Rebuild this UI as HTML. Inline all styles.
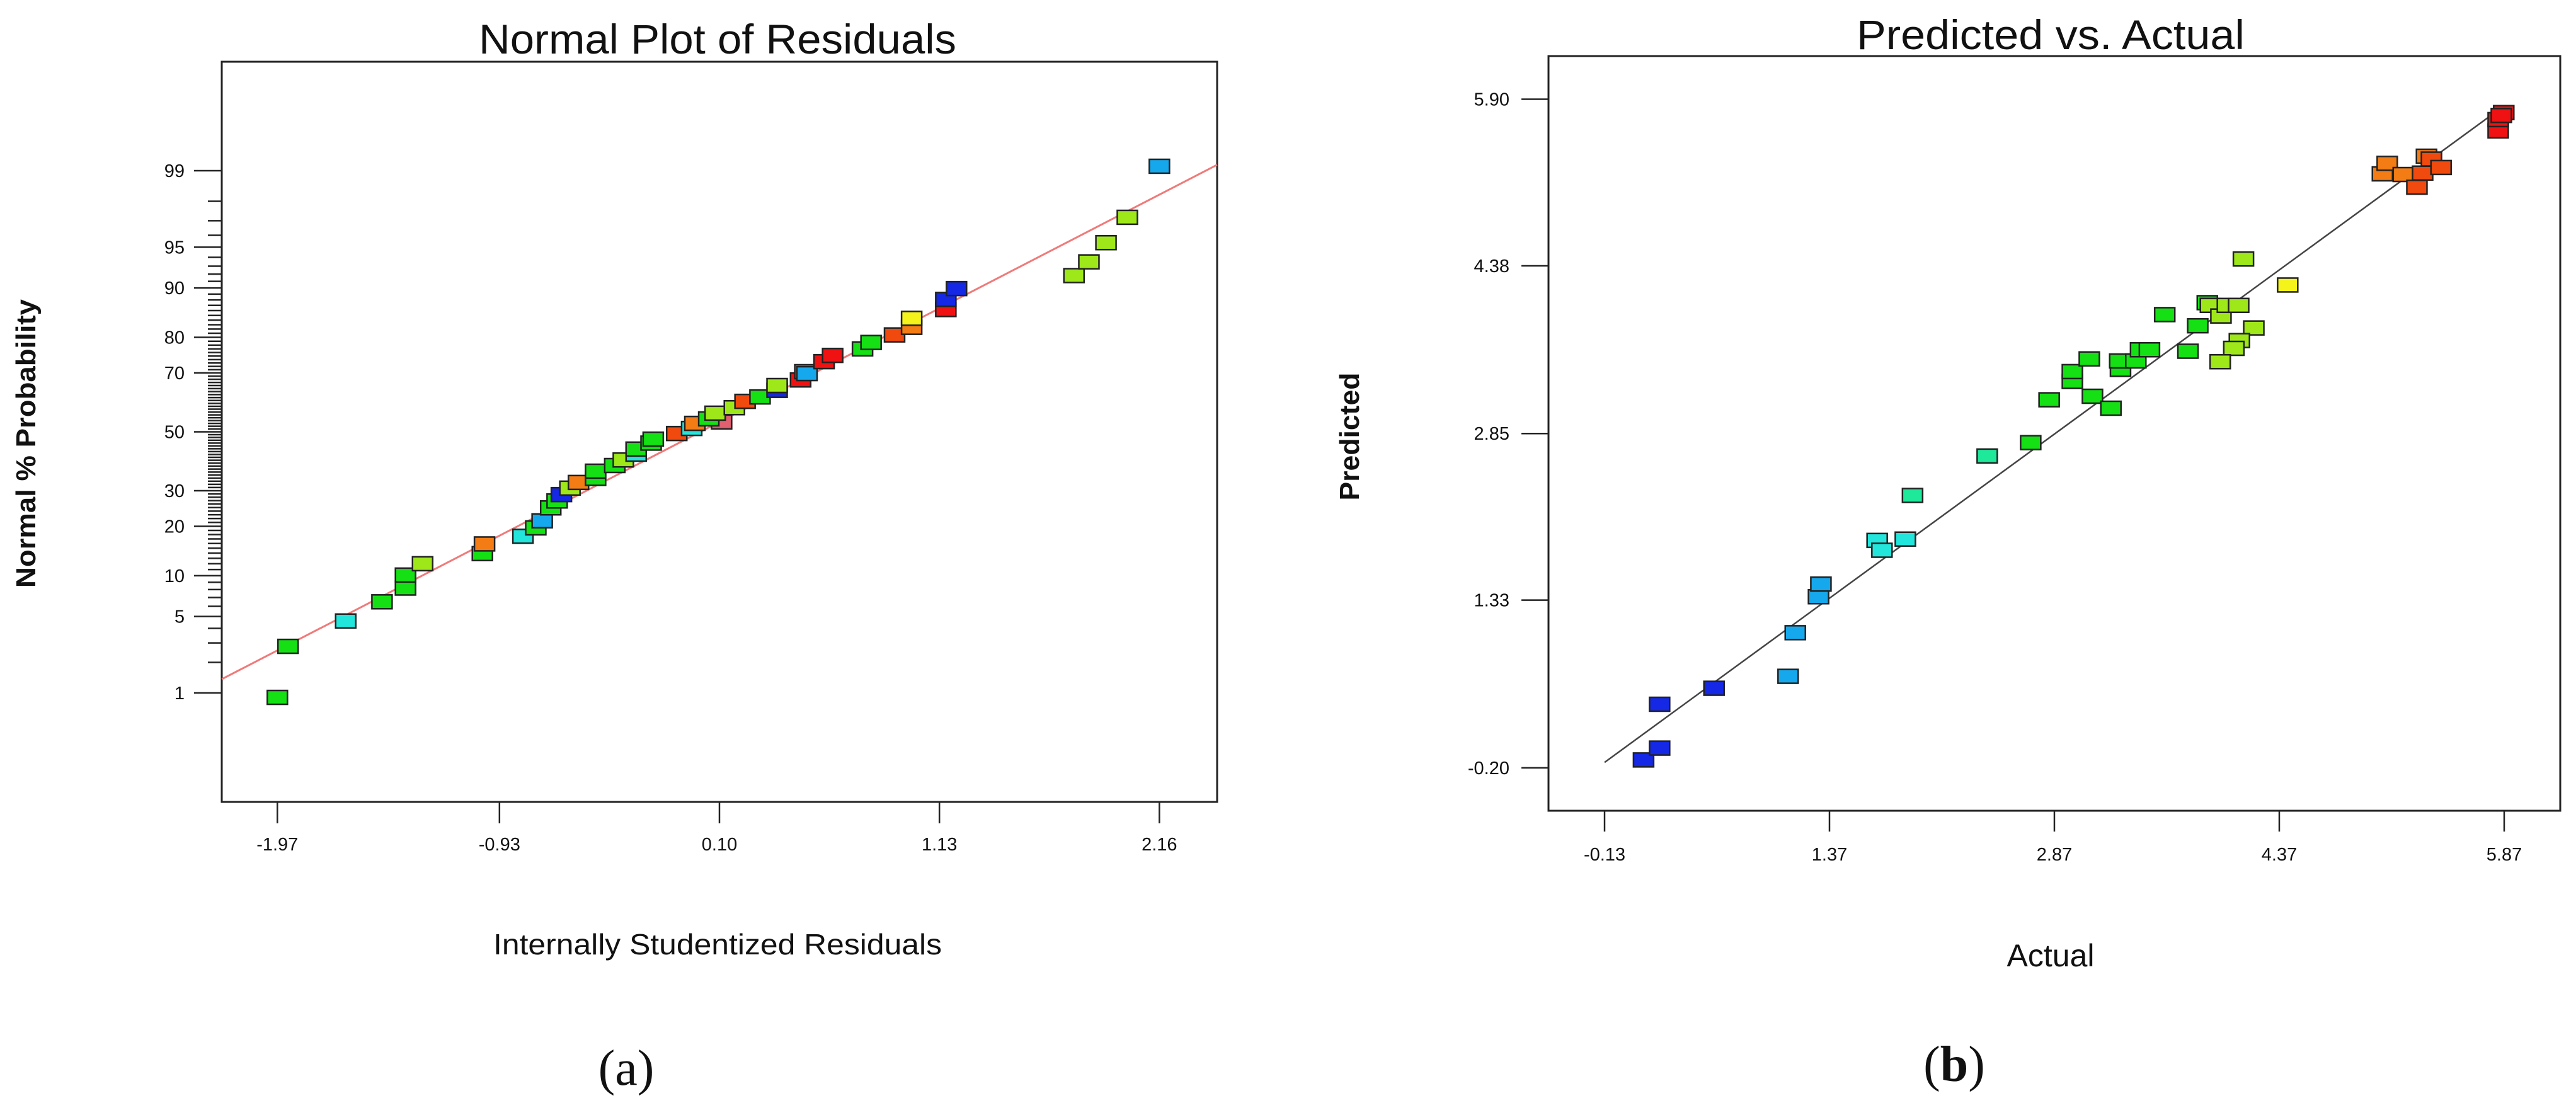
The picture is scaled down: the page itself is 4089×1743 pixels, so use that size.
<!DOCTYPE html>
<html><head><meta charset="utf-8"><style>
html,body{margin:0;padding:0;background:#fff;}
svg{display:block;}
text{font-family:"Liberation Sans",sans-serif;fill:#111;}
</style></head><body>
<svg id="fig" width="4089" height="1743" viewBox="0 0 4089 1743" xmlns="http://www.w3.org/2000/svg">
<g id="left"></g>
<g id="right"></g>
</svg>
<script>
// ---- Panel (a) data: Normal plot of residuals ----
const resX = [-1.97,-1.92,-1.65,-1.48,-1.37,-1.37,-1.29,-1.01,-1.00,-0.82,-0.76,-0.73,-0.69,-0.66,-0.64,-0.60,-0.56,-0.48,-0.48,-0.39,-0.35,-0.29,-0.29,-0.22,-0.21,-0.10,-0.03,-0.015,0.11,0.05,0.08,0.17,0.22,0.29,0.37,0.37,0.48,0.50,0.51,0.59,0.63,0.77,0.81,0.92,1.00,1.00,1.16,1.16,1.21,1.76,1.83,1.91,2.01,2.16];
const resP = [0.9,2.8,4.6,6.5,8.2,10.1,12.0,13.9,15.9,17.6,19.6,21.4,24.9,26.9,28.8,30.8,32.6,33.9,36.3,38.2,40.1,42.1,43.9,46.0,47.4,49.4,51.2,53.0,53.5,54.6,56.6,58.5,60.7,62.2,64.4,66.0,67.8,70.4,69.8,73.4,75.2,77.0,78.7,80.6,82.4,84.4,86.2,88.1,89.9,91.8,93.5,95.4,97.2,99.1];
const resC = ["g","g","c","g","g","g","l","g","o","c","g","a","g","g","b","l","o","g","g","g","l","c","g","g","g","r","c","o","p","g","l","l","r","g","b","l","R","o","a","R","R","g","g","r","o","y","R","b","b","l","l","l","l","a"];
const xTicksA = [-1.97,-0.93,0.10,1.13,2.16];
const yTicksA = [1,5,10,20,30,50,70,80,90,95,99];
const lineA = [[-2.23,1.38],[2.43,99.13]];

// ---- Panel (b) data: Predicted vs actual ----
const actX = [0.13,0.237,0.237,0.60,1.094,1.142,1.297,1.313,1.688,1.72,1.876,1.924,2.422,2.712,2.835,2.99,2.99,3.124,3.103,3.247,3.311,3.306,3.413,3.445,3.504,3.606,3.761,3.826,3.89,3.911,3.981,4.024,4.099,4.131,4.2,4.104,4.067,3.976,4.426,5.058,5.09,5.197,5.288,5.326,5.352,5.385,5.449,5.83,5.83,5.867,5.851];
const predY = [-0.128,-0.02,0.38,0.526,0.635,1.033,1.361,1.476,1.875,1.785,1.887,2.285,2.645,2.767,3.158,3.325,3.415,3.19,3.531,3.081,3.435,3.512,3.512,3.614,3.614,3.935,3.601,3.833,4.044,4.019,3.922,4.019,4.019,4.442,3.813,3.698,3.627,3.505,4.205,5.219,5.315,5.213,5.097,5.226,5.38,5.354,5.277,5.611,5.714,5.778,5.752];
const actC = ["b","b","b","b","a","a","a","a","c","c","c","t","t","g","g","g","g","g","g","g","g","g","g","g","g","g","g","g","g","l","l","l","l","l","l","l","l","l","y","o","o","o","r","r","o","r","r","R","R","R","R"];
const xTicksB = [-0.13,1.37,2.87,4.37,5.87];
const yTicksB = [-0.20,1.33,2.85,4.38,5.90];
const lineB = [[-0.13,-0.15],[5.85,5.82]];

const palette = {b:"#1428e6",a:"#16a8ec",c:"#22e6dc",t:"#1ee89a",g:"#14e014",l:"#9ee81a",y:"#f4f41a",o:"#f47c14",r:"#f04a0e",R:"#f01212",p:"#e06070"};
const NS = "http://www.w3.org/2000/svg";
function mk(parent, tag, attrs, txt){
  const e = document.createElementNS(NS, tag);
  for (const k in attrs) e.setAttribute(k, attrs[k]);
  if (txt !== undefined) e.textContent = txt;
  parent.appendChild(e);
  return e;
}
function probit(p){
  const a=[-39.69683028665376,220.9460984245205,-275.9285104469687,138.3577518672690,-30.66479806614716,2.506628277459239];
  const b=[-54.47609879822406,161.5858368580409,-155.6989798598866,66.80131188771972,-13.28068155288572];
  const c=[-0.007784894002430293,-0.3223964580411365,-2.400758277161838,-2.549732539343734,4.374664141464968,2.938163982698783];
  const d=[0.007784695709041462,0.3224671290700398,2.445134137142996,3.754408661907416];
  const pl=0.02425;let q,r;
  if(p<pl){q=Math.sqrt(-2*Math.log(p));return (((((c[0]*q+c[1])*q+c[2])*q+c[3])*q+c[4])*q+c[5])/((((d[0]*q+d[1])*q+d[2])*q+d[3])*q+1);}
  if(p>1-pl){q=Math.sqrt(-2*Math.log(1-p));return -(((((c[0]*q+c[1])*q+c[2])*q+c[3])*q+c[4])*q+c[5])/((((d[0]*q+d[1])*q+d[2])*q+d[3])*q+1);}
  q=p-0.5;r=q*q;return (((((a[0]*r+a[1])*r+a[2])*r+a[3])*r+a[4])*r+a[5])*q/(((((b[0]*r+b[1])*r+b[2])*r+b[3])*r+b[4])*r+1);
}

// ===== Panel A =====
const L = document.getElementById('left');
const ax = v => 1142 + (v - 0.10) * 339;
const ay = p => 685.5 - probit(p/100) * 178.2;
const t1 = mk(L,'text',{x:1139,y:85,'text-anchor':'middle','font-size':66,textLength:758,lengthAdjust:'spacingAndGlyphs'},'Normal Plot of Residuals');


const fa = mk(L,'rect',{x:352,y:98,width:1580,height:1175,fill:'none',stroke:'#222','stroke-width':3});


for (let i=1;i<=99;i++){
  if (yTicksA.indexOf(i) >= 0) continue;
  const y = ay(i);
  const tk = mk(L,'line',{x1:330,x2:352,y1:y,y2:y,stroke:'#222','stroke-width':2.5});
  
  
}
yTicksA.forEach(v=>{
  const y = ay(v);
  const tk = mk(L,'line',{x1:308,x2:352,y1:y,y2:y,stroke:'#222','stroke-width':2.5});
  
  
  const tl = mk(L,'text',{x:293,y:y+10,'text-anchor':'end','font-size':29},String(v));
  
  
});
xTicksA.forEach(v=>{
  const x = ax(v);
  const tk = mk(L,'line',{x1:x,x2:x,y1:1273,y2:1307,stroke:'#222','stroke-width':2.5});
  
  
  const tl = mk(L,'text',{x:x,y:1350,'text-anchor':'middle','font-size':29},v.toFixed(2));
  
  
});
const xt = mk(L,'text',{x:1139,y:1515,'text-anchor':'middle','font-size':46,textLength:712,lengthAdjust:'spacingAndGlyphs'},'Internally Studentized Residuals');


const yt = mk(L,'text',{x:0,y:0,'text-anchor':'middle','font-size':44,'font-weight':'bold',textLength:458,lengthAdjust:'spacingAndGlyphs',transform:'translate(56,704) rotate(-90)'},'Normal % Probability');


const la = mk(L,'line',{x1:ax(lineA[0][0]),y1:ay(lineA[0][1]),x2:ax(lineA[1][0]),y2:ay(lineA[1][1]),stroke:'#f07a7a','stroke-width':3});


resX.forEach((v,i)=>{
  const r = mk(L,'rect',{x:ax(v)-16,y:ay(resP[i])-11,width:32,height:22,fill:palette[resC[i]],stroke:'#222','stroke-width':2.5});
  
  
});
const capA = mk(L,'text',{x:994,y:1722,'text-anchor':'middle','font-size':80,style:'font-family:"Liberation Serif",serif'},'(a)');



// ===== Panel B =====
const R = document.getElementById('right');
const bx = v => 2547 + (v + 0.13) * 238;
const by = v => 157.5 + (5.90 - v) * 174;
const t2 = mk(R,'text',{x:3255,y:78,'text-anchor':'middle','font-size':66,textLength:616,lengthAdjust:'spacingAndGlyphs'},'Predicted vs. Actual');


const fb = mk(R,'rect',{x:2458,y:89,width:1606,height:1198,fill:'none',stroke:'#222','stroke-width':3});


yTicksB.forEach(v=>{
  const y = by(v);
  const tk = mk(R,'line',{x1:2415,x2:2458,y1:y,y2:y,stroke:'#222','stroke-width':2.5});
  
  
  const tl = mk(R,'text',{x:2396,y:y+10,'text-anchor':'end','font-size':29},v.toFixed(2));
  
  
});
xTicksB.forEach(v=>{
  const x = bx(v);
  const tk = mk(R,'line',{x1:x,x2:x,y1:1287,y2:1320,stroke:'#222','stroke-width':2.5});
  
  
  const tl = mk(R,'text',{x:x,y:1366,'text-anchor':'middle','font-size':29},v.toFixed(2));
  
  
});
const xt2 = mk(R,'text',{x:3255,y:1534,'text-anchor':'middle','font-size':50},'Actual');


const yt2 = mk(R,'text',{x:0,y:0,'text-anchor':'middle','font-size':44,'font-weight':'bold',textLength:203,lengthAdjust:'spacingAndGlyphs',transform:'translate(2157,693) rotate(-90)'},'Predicted');


const lb = mk(R,'line',{x1:bx(lineB[0][0]),y1:by(lineB[0][1]),x2:bx(lineB[1][0]),y2:by(lineB[1][1]),stroke:'#444','stroke-width':2.5});


actX.forEach((v,i)=>{
  const r = mk(R,'rect',{x:bx(v)-16,y:by(predY[i])-11,width:32,height:22,fill:palette[actC[i]],stroke:'#222','stroke-width':2.5});
  
  
});
const capB = mk(R,'text',{x:3102,y:1716,'text-anchor':'middle','font-size':80,style:'font-family:"Liberation Serif",serif'});


mk(capB,'tspan',{},'(');
mk(capB,'tspan',{'font-weight':'bold'},'b');
mk(capB,'tspan',{},')');
</script>
</body></html>
